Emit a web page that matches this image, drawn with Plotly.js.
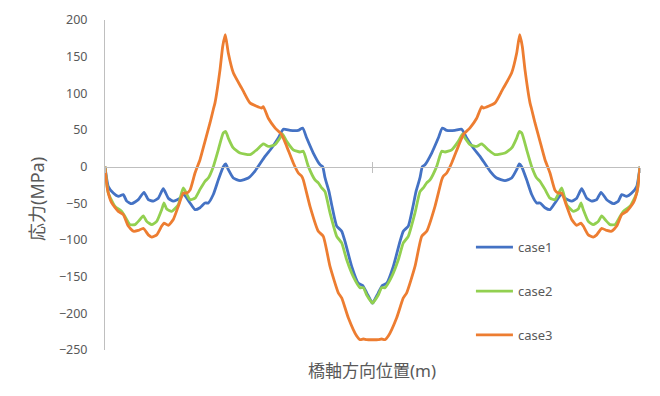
<!DOCTYPE html>
<html>
<head>
<meta charset="utf-8">
<script src="https://cdn.plot.ly/plotly-3.0.1.min.js"></script>
<style>html,body{margin:0;padding:0;background:#fff;}#chart{width:660px;height:396px;}</style>
</head>
<body>
<div id="chart"></div>
<script>
// Position along bridge axis (m) and stress (MPa)
const case1X = [0,3.3,8.3,13.3,18.3,21.7,26.7,33.3,39,43.3,48.3,53.3,58.3,63.3,68.3,75,78.3,85,90,95,100,103.3,108.3,113.3,118.3,120.7,123.3,128.3,135,143.3,150,160,166.7,173.3,178.3,185,193.3,197.7,201.7,208.3,215,217.7,220,224,227,231.7,236.7,240,246.7,253.3,257.7,261.7,266.7,267.5,
  268.3,273.3,277.3,281.7,288.3,295,298.3,303.3,308,311,315,317.3,320,326.7,333.3,337.3,341.7,350,356.7,361.7,368.3,375,385,391.7,400,406.7,411.7,414.3,416.7,421.7,426.7,431.7,435,440,445,450,456.7,460,466.7,471.7,476.7,481.7,486.7,491.7,496,501.7,508.3,513.3,516.7,521.7,526.7,531.7,535];
const case1Y = [0,-27,-36,-40.5,-38,-47,-50.5,-45,-35,-45,-47,-43,-30,-43,-47,-43,-37,-49.5,-58.6,-56,-49.5,-49.5,-38,-18,0,3.7,-4,-15.5,-19,-15.5,-6,14,25.5,39,51,49.5,49.5,52.7,39,18.6,2.7,0,-15,-34,-54,-81,-88,-102,-136,-159,-162,-172,-185,-186,
  -185,-172,-162,-159,-136,-102,-88,-81,-54,-34,-15,0,2.7,18.6,39,52.7,49.5,49.5,51,39,25.5,14,-6,-15.5,-19,-15.5,-4,3.7,0,-18,-38,-49.5,-49.5,-56,-58.6,-49.5,-37,-43,-47,-43,-30,-43,-47,-45,-35,-45,-50.5,-47,-38,-40.5,-36,-27,0];

const case2X = [0,3.3,10,16.7,20,25,30,35,38.3,41.7,46.7,51.7,56.7,59,61.7,66.7,73.3,78.3,85,90,95,100,103.3,108.3,113.3,118.3,120.7,123.3,128.3,135,145,151.7,158.3,163.3,170,175,177.3,181.7,188.3,195,198.3,203.3,210,213.3,216.7,220,225,231.7,236.7,241.7,248.3,255,258.3,261.7,266.7,267.5,
  268.3,273.3,276.7,280,286.7,293.3,298.3,303.3,310,315,318.3,321.7,325,331.7,336.7,340,346.7,353.3,357.7,360,365,371.7,376.7,383.3,390,400,406.7,411.7,414.3,416.7,421.7,426.7,431.7,435,440,445,450,456.7,461.7,468.3,473.3,476,478.3,483.3,488.3,493.3,496.7,500,505,510,515,518.3,525,531.7,535];
const case2Y = [0,-36,-54,-61,-68,-79,-79,-72,-67,-74.6,-79,-74.6,-58.6,-49.5,-57.7,-61,-52,-29,-45,-43,-31,-20,-15.5,0,23,46,48,39,25.5,18.6,16.4,23,31,27.7,30,39,44.6,34.5,23,20,21,0.4,-18,-22,-29,-34,-63,-95,-104,-127,-150,-165,-165,-175,-185,-186,
  -185,-175,-165,-165,-150,-127,-104,-95,-63,-34,-29,-22,-18,0.4,21,20,23,34.5,44.6,39,30,27.7,31,23,16.4,18.6,25.5,39,48,46,23,0,-15.5,-20,-31,-43,-45,-29,-52,-61,-57.7,-49.5,-58.6,-74.6,-79,-74.6,-67,-72,-79,-79,-68,-61,-54,-36,0];

const case3X = [0,2.5,6.7,13.3,18.3,23.3,28.3,33.3,38.3,43.3,46.7,51.7,56.7,59,63.3,68.3,73.3,78.3,81.7,85,90,95,100,105,108.3,110,115,117.7,120.3,123.3,128.3,136.7,138.3,145,156.7,158.3,163.3,170,176.7,181.7,188.3,193.3,196.7,198.3,205,213.3,218.3,225,233.3,236.7,243.3,251.7,255,258.3,261.7,267.5,
  273.3,276.7,280,283.3,291.7,298.3,301.7,310,316.7,321.7,330,336.7,338.3,341.7,346.7,353.3,358.3,365,371.7,376.7,378.3,390,396.7,398.3,406.7,411.7,414.7,417.3,420,425,426.7,430,435,440,445,450,453.3,456.7,461.7,466.7,471.7,476,478.3,483.3,488.3,491.7,496.7,501.7,506.7,511.7,516.7,521.7,528.3,532.5,535];
const case3Y = [0,-31,-49.5,-61,-65.5,-81,-88,-87,-84,-93,-96,-93,-81,-77,-80,-72,-54,-36,-36,-32,-8.6,9.5,34.5,59.6,78,87,132,164,180,155,128,107,103,87,80,82,66,53,43.6,27.7,5,-8.6,-13,-18,-54,-88,-95,-136,-172,-179,-206,-231,-236,-235,-236,-236,
  -236,-235,-236,-231,-206,-179,-172,-136,-95,-88,-54,-18,-13,-8.6,5,27.7,43.6,53,66,82,80,87,103,107,128,155,180,164,132,87,78,59.6,34.5,9.5,-8.6,-32,-36,-36,-54,-72,-80,-77,-81,-93,-96,-93,-84,-87,-88,-81,-65.5,-61,-49.5,-31,0];

const seriesNames = ['case1','case2','case3'];
const seriesColors = ['#4472C4','#92D050','#ED7D31'];
const yTickVals = [200,150,100,50,0,-50,-100,-150,-200,-250];
const xTickVals = [0,267.5,535];
const yTitle = '応力(MPa)';
const xTitle = '橋軸方向位置(m)';

const xs = [case1X, case2X, case3X];
const ys = [case1Y, case2Y, case3Y];
const traces = seriesNames.map((n,i)=>({
  type:'scatter', mode:'lines', name:n, x:xs[i], y:ys[i],
  legendgroup:n,
  line:{color:seriesColors[i], width:2.8, shape:'spline', smoothing:0.5},
  hoverinfo:'skip'
}));

const font = 'Noto Sans, Noto Sans CJK JP, sans-serif';
const zeroPos = 250/450;
const layout = {
  width:660, height:396,
  margin:{l:105, r:20, t:20, b:46},
  paper_bgcolor:'#fff', plot_bgcolor:'#fff',
  showlegend:true,
  legend:{x:0.684, y:0.357, xanchor:'left', yanchor:'top', bgcolor:'rgba(0,0,0,0)',
    font:{family:font, size:13, color:'#595959'}, tracegroupgap:24, itemwidth:37, traceorder:'grouped'},
  xaxis:{range:[0,535], anchor:'free', position:zeroPos, showline:true, linecolor:'#BFBFBF', linewidth:1,
    showgrid:false, zeroline:false, ticks:'outside', ticklen:5, tickcolor:'#BFBFBF', tickvals:xTickVals, showticklabels:false, fixedrange:true},
  xaxis2:{range:[0,535], overlaying:'x', anchor:'free', position:zeroPos, side:'bottom', showline:false,
    showgrid:false, zeroline:false, ticks:'inside', ticklen:5, tickcolor:'#BFBFBF', tickvals:xTickVals, showticklabels:false},
  yaxis:{range:[-250,200], tickvals:yTickVals, showgrid:false, zeroline:false, showline:true, linecolor:'#BFBFBF', linewidth:1,
    ticks:'', ticklabelstandoff:14, tickfont:{family:font, size:12.5, color:'#595959'}},
  annotations:[
    {text:yTitle, xref:'paper', yref:'paper', x:(37-105)/535, y:(350-199)/330, showarrow:false, textangle:-90,
      font:{family:font, size:18, color:'#595959'}, xanchor:'center', yanchor:'middle'},
    {text:xTitle, xref:'paper', yref:'paper', x:(372-105)/535, y:-20/330, showarrow:false,
      font:{family:font, size:17, color:'#595959'}, xanchor:'center', yanchor:'middle'}
  ]
};
traces.push({type:'scatter', x:[], y:[], xaxis:'x2', showlegend:false, hoverinfo:'skip'});
Plotly.newPlot('chart', traces, layout, {displayModeBar:false, staticPlot:true});
</script>
</body>
</html>
